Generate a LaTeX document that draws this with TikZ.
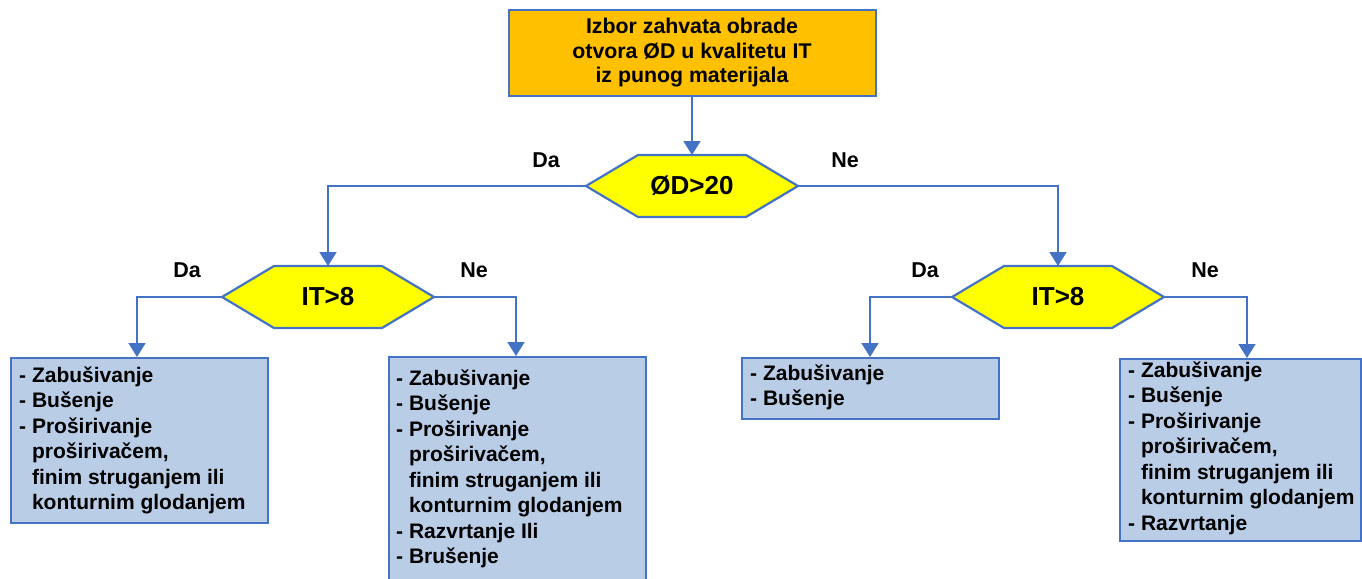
\documentclass[tikz,border=0pt]{standalone}
\usepackage{fontspec}
\setmainfont{Liberation Sans}
\usetikzlibrary{arrows.meta}
\definecolor{ofborder}{HTML}{4472C4}
\definecolor{oforange}{HTML}{FFC000}
\definecolor{ofyellow}{HTML}{FFFF00}
\definecolor{ofbox}{HTML}{B9CDE7}
\tikzset{
  topbox/.style={draw=ofborder, line width=2pt, fill=oforange, inner sep=0pt, align=center,
    font=\fontsize{21.3}{24.5}\selectfont\bfseries},
  hexa/.style={draw=ofborder, line width=2.2pt, fill=ofyellow, line join=miter},
  hextxt/.style={inner sep=0pt, font=\fontsize{26}{28}\selectfont\bfseries},
  resbox/.style={draw=ofborder, line width=1.8pt, fill=ofbox, inner sep=0pt, anchor=north west},
  restxt/.style={inner sep=0pt, anchor=north west, align=left,
    font=\fontsize{21}{25.5}\selectfont\bfseries},
  lbl/.style={inner sep=0pt, anchor=base, font=\fontsize{21.5}{24}\selectfont\bfseries},
  conn/.style={draw=ofborder, line width=1.8pt, -{Triangle[width=17pt,length=14pt]}},
}
\newcommand\hexnode[4]{%
  \draw[hexa] ({#2-106},#3) -- ({#2-54},{#3-31}) -- ({#2+54},{#3-31}) -- ({#2+106},#3)
    -- ({#2+54},{#3+31}) -- ({#2-54},{#3+31}) -- cycle;
  \node[hextxt] (#1) at (#2,#3) {#4};
  \coordinate (#1-w) at ({#2-106},#3);
  \coordinate (#1-e) at ({#2+106},#3);
  \coordinate (#1-n) at (#2,{#3-31});
}
\newcommand\ind{\phantom{- }}
\newcommand\fl{\rule{0pt}{22pt}}
\begin{document}
\begin{tikzpicture}[x=1pt,y=-1pt]
\useasboundingbox (0,0) rectangle (1362,578);
\clip (0,0) rectangle (1362,578);
% top box
\node[topbox, minimum width=367pt, minimum height=86pt] (top) at (692,53)
  {Izbor zahvata obrade\\otvora ØD u kvalitetu IT\\iz punog materijala};
% decisions
\hexnode{h1}{692}{186}{ØD>20}
\hexnode{h2}{328}{297}{IT>8}
\hexnode{h3}{1058}{297}{IT>8}
% labels
\node[lbl] (da1) at (546,167) {Da};
\node[lbl] (ne1) at (845,167) {Ne};
\node[lbl] (da2) at (187,277) {Da};
\node[lbl] (ne2) at (474,277) {Ne};
\node[lbl] (da3) at (925,277) {Da};
\node[lbl] (ne3) at (1205,277) {Ne};
% result boxes
\node[resbox, minimum width=257pt, minimum height=165pt] (b1) at (10,357) {};
\node[resbox, minimum width=257pt, minimum height=240pt] (b2) at (388,356) {};
\node[resbox, minimum width=257pt, minimum height=61pt] (b3) at (741,357) {};
\node[resbox, minimum width=241pt, minimum height=182pt] (b4) at (1119,358) {};
\node[restxt] (t1) at (19,{382-22}) {\fl- Zabušivanje\\- Bušenje\\- Proširivanje\\\ind proširivačem,\\\ind finim struganjem ili\\\ind konturnim glodanjem};
\node[restxt] (t2) at (396,{385-22}) {\fl- Zabušivanje\\- Bušenje\\- Proširivanje\\\ind proširivačem,\\\ind finim struganjem ili\\\ind konturnim glodanjem\\- Razvrtanje Ili\\- Brušenje};
\node[restxt] (t3) at (750,{380-22}) {\fl- Zabušivanje\\- Bušenje};
\node[restxt] (t4) at (1128,{377-22}) {\fl- Zabušivanje\\- Bušenje\\- Proširivanje\\\ind proširivačem,\\\ind finim struganjem ili\\\ind konturnim glodanjem\\- Razvrtanje};
% connectors
\coordinate (b1n) at (137,357);
\coordinate (b2n) at (516,356);
\coordinate (b3n) at (870,357);
\coordinate (b4n) at (1247,358);
\draw[conn] (top.south) -- (h1-n);
\draw[conn] (h1-w) -| (h2-n);
\draw[conn] (h1-e) -| (h3-n);
\draw[conn] (h2-w) -| (b1n);
\draw[conn] (h2-e) -| (b2n);
\draw[conn] (h3-w) -| (b3n);
\draw[conn] (h3-e) -| (b4n);
\end{tikzpicture}
\end{document}
